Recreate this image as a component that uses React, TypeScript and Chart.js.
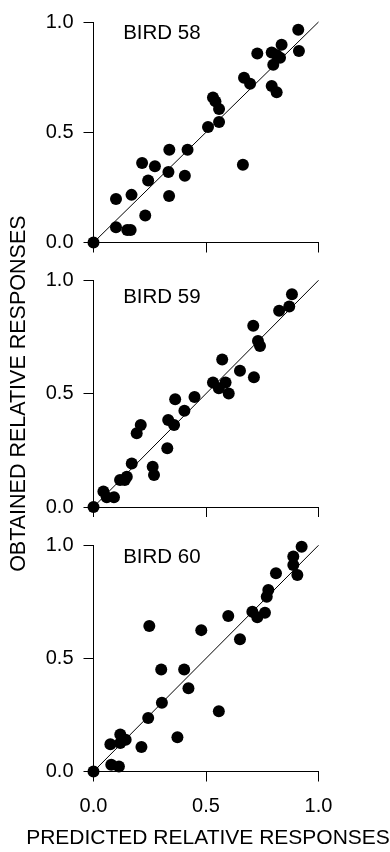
import React, { useEffect, useRef } from "react";
import { Chart, registerables } from "chart.js";

Chart.register(...registerables);

const FONT = '"Liberation Sans", Arial, Helvetica, sans-serif';

const tickValues = [0, 0.5, 1];
const tickLabels = ["0.0", "0.5", "1.0"];
const xTitle = "PREDICTED RELATIVE RESPONSES";
const yTitle = "OBTAINED RELATIVE RESPONSES";
const panelNames = ["BIRD 58", "BIRD 59", "BIRD 60"];

const identityX = [0, 1];
const identityY = [0, 1];

const bird58Predicted = [0, 0.1, 0.1, 0.15, 0.165, 0.169, 0.23, 0.216, 0.273, 0.243, 0.337, 0.333, 0.336, 0.418, 0.406, 0.509, 0.531, 0.542, 0.558, 0.558, 0.664, 0.669, 0.696, 0.728, 0.792, 0.814, 0.799, 0.792, 0.836, 0.814, 0.829, 0.91, 0.913];
const bird58Obtained = [0, 0.197, 0.069, 0.057, 0.057, 0.216, 0.122, 0.361, 0.346, 0.281, 0.421, 0.32, 0.211, 0.421, 0.303, 0.524, 0.658, 0.64, 0.605, 0.546, 0.353, 0.747, 0.72, 0.857, 0.71, 0.681, 0.806, 0.862, 0.897, 0.85, 0.838, 0.965, 0.868];

const bird59Predicted = [0, 0.044, 0.059, 0.091, 0.118, 0.139, 0.148, 0.17, 0.192, 0.21, 0.263, 0.269, 0.328, 0.332, 0.358, 0.363, 0.404, 0.449, 0.531, 0.557, 0.587, 0.601, 0.572, 0.651, 0.713, 0.71, 0.731, 0.74, 0.825, 0.87, 0.882];
const bird59Obtained = [0, 0.068, 0.043, 0.043, 0.119, 0.119, 0.133, 0.192, 0.325, 0.362, 0.178, 0.141, 0.259, 0.384, 0.362, 0.475, 0.425, 0.485, 0.549, 0.524, 0.549, 0.501, 0.651, 0.601, 0.572, 0.799, 0.732, 0.71, 0.866, 0.884, 0.938];

const bird60Predicted = [0, 0.075, 0.079, 0.113, 0.119, 0.119, 0.143, 0.213, 0.243, 0.248, 0.301, 0.304, 0.373, 0.403, 0.422, 0.479, 0.557, 0.599, 0.651, 0.706, 0.728, 0.762, 0.777, 0.77, 0.811, 0.888, 0.888, 0.906, 0.925];
const bird60Obtained = [0, 0.12, 0.03, 0.022, 0.164, 0.126, 0.14, 0.108, 0.236, 0.643, 0.451, 0.304, 0.151, 0.451, 0.368, 0.625, 0.266, 0.687, 0.585, 0.706, 0.682, 0.702, 0.802, 0.773, 0.876, 0.95, 0.913, 0.869, 0.994];

const W = 390;
const H = 852;

// Draws the panel name inside the plot and, for the bottom panel, the shared x title.
const textPlugin = {
  id: "panelText",
  afterDatasetsDraw(chart: any, _args: any, opts: any) {
    const { ctx, scales, chartArea } = chart;
    ctx.save();
    ctx.font = `20.5px ${FONT}`;
    ctx.fillStyle = "#000";
    ctx.textAlign = "left";
    ctx.textBaseline = "alphabetic";
    ctx.fillText(opts.text, scales.x.getPixelForValue(opts.x), scales.y.getPixelForValue(opts.y));
    if (opts.xTitle) {
      ctx.font = `21px ${FONT}`;
      ctx.textAlign = "center";
      ctx.fillText(opts.xTitle, (chartArea.left + chartArea.right) / 2 + 2, opts.xTitleBaseline);
    }
    ctx.restore();
  },
};

type PanelProps = {
  predicted: number[];
  obtained: number[];
  name: string;
  nameY: number;
  plotTop: number;
  plotBottom: number;
  showXLabels: boolean;
  showYTitle: boolean;
};

function Panel(p: PanelProps) {
  const ref = useRef<HTMLCanvasElement | null>(null);
  useEffect(() => {
    if (!ref.current) return;
    const pts = p.predicted.map((x, i) => ({ x, y: p.obtained[i] }));
    const line = identityX.map((x, i) => ({ x, y: identityY[i] }));
    const tickSetup = (s: any) => {
      s.ticks = tickValues.map((v) => ({ value: v }));
    };
    const fmt = (_v: any, i: number) => tickLabels[i];
    const chart = new Chart(ref.current, {
      type: "scatter",
      data: {
        datasets: [
          {
            data: pts,
            backgroundColor: "#000",
            borderColor: "#000",
            borderWidth: 0,
            pointRadius: 6,
            pointHoverRadius: 6,
            clip: false,
          } as any,
          {
            data: line,
            showLine: true,
            borderColor: "#000",
            borderWidth: 1,
            pointRadius: 0,
            clip: false,
          } as any,
        ],
      },
      options: {
        responsive: false,
        animation: false,
        events: [],
        layout: { padding: { left: 6.5, right: 71.5, top: p.plotTop, bottom: 0 } },
        plugins: {
          legend: { display: false },
          tooltip: { enabled: false },
          panelText: {
            text: p.name,
            x: 0.132,
            y: p.nameY,
            xTitle: p.showXLabels ? xTitle : null,
            xTitleBaseline: 844,
          },
        } as any,
        scales: {
          x: {
            type: "linear",
            position: "bottom",
            min: 0,
            max: 1,
            afterBuildTicks: tickSetup,
            afterFit: (s: any) => {
              s.height = H - p.plotBottom;
            },
            ticks: {
              display: p.showXLabels,
              callback: fmt,
              color: "#000",
              font: { family: FONT, size: 20 },
              padding: 13,
              maxRotation: 0,
              autoSkip: false,
            },
            grid: { drawOnChartArea: false, drawTicks: true, tickLength: 10, color: "#000", lineWidth: 1 },
            border: { display: true, color: "#000", width: 1 },
          },
          y: {
            type: "linear",
            position: "left",
            min: 0,
            max: 1,
            afterBuildTicks: tickSetup,
            afterFit: (s: any) => {
              s.width = 87;
            },
            ticks: {
              callback: fmt,
              color: "#000",
              font: { family: FONT, size: 20 },
              padding: 10,
              autoSkip: false,
            },
            grid: { drawOnChartArea: false, drawTicks: true, tickLength: 10, color: "#000", lineWidth: 1 },
            border: { display: true, color: "#000", width: 1 },
            title: {
              display: p.showYTitle,
              text: yTitle,
              color: "#000",
              font: { family: FONT, size: 21.5 },
              padding: { top: 0, bottom: 0 },
            },
          },
        },
      } as any,
      plugins: [textPlugin],
    });
    return () => chart.destroy();
  }, []);
  return (
    <canvas
      ref={ref}
      width={W}
      height={H}
      style={{ position: "absolute", left: 0, top: 0, display: "block" }}
    />
  );
}

export default function App() {
  return (
    <div style={{ position: "absolute", left: 0, top: 0, width: W, height: H, background: "#fff" }}>
      <Panel predicted={bird58Predicted} obtained={bird58Obtained} name={panelNames[0]} nameY={0.924}
        plotTop={16} plotBottom={242.5} showXLabels={false} showYTitle={false} />
      <Panel predicted={bird59Predicted} obtained={bird59Obtained} name={panelNames[1]} nameY={0.899}
        plotTop={280.3} plotBottom={507} showXLabels={false} showYTitle={true} />
      <Panel predicted={bird60Predicted} obtained={bird60Obtained} name={panelNames[2]} nameY={0.92}
        plotTop={545.3} plotBottom={771.5} showXLabels={true} showYTitle={false} />
    </div>
  );
}
